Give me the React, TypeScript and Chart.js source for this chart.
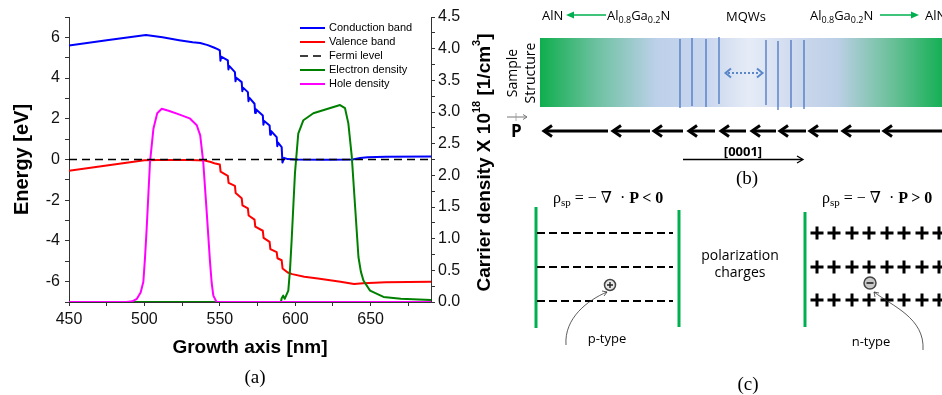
import React, { useEffect, useRef } from 'react';
import { Chart, registerables } from 'chart.js';

Chart.register(...registerables);

// ---------- data ----------
const conductionX = [450, 475, 501, 512, 523, 532, 537, 542, 546, 548.5, 550,
  550.4, 550.9, 555.3, 555.7, 556.2, 560, 560.4, 560.9, 564.5, 564.9, 565.4,
  568.6, 569.0, 569.5, 573, 573.4, 573.9, 578.5, 578.9, 579.4, 583, 583.4, 583.9,
  587.7, 588.1, 588.6, 591, 591.5, 592.6, 595, 600, 620, 638, 643, 648, 660, 690];
const conductionY = [5.6, 5.86, 6.12, 6.0, 5.86, 5.76, 5.72, 5.62, 5.5, 5.42, 5.36,
  4.85, 5.05, 4.87, 4.42, 4.6, 4.29, 3.84, 4.02, 3.8, 3.35, 3.53,
  3.31, 2.86, 3.04, 2.74, 2.29, 2.47, 2.16, 1.71, 1.89, 1.67, 1.22, 1.4,
  1.1, 0.65, 0.83, 0.61, -0.15, 0.08, 0.02, 0.0, -0.01, 0.0, 0.07, 0.11, 0.13, 0.15];

const valenceX = [450, 475, 500, 510, 530, 540, 544, 547, 550,
  550.5, 555.3, 555.8, 560, 560.5, 564.5, 565, 568.6, 569.1, 573, 573.5,
  578.5, 579, 583, 583.5, 587.7, 588.2, 591, 591.6, 595, 598, 606, 615, 630, 639, 645, 660, 690];
const valenceY = [-0.55, -0.3, -0.04, -0.02, -0.03, -0.05, -0.12, -0.2, -0.25,
  -0.6, -0.8, -1.15, -1.3, -1.65, -1.9, -2.25, -2.4, -2.75, -2.95, -3.3,
  -3.5, -3.85, -4.05, -4.4, -4.55, -4.85, -4.95, -5.35, -5.55, -5.63, -5.76, -5.85, -6.0, -6.12, -6.08, -6.03, -6.0];

const fermiX = [450, 690];
const fermiY = [0, 0];

const electronX = [450, 589, 590.5, 591, 592, 593, 595.4, 596.5, 597.6, 598.7, 599.8, 602, 605.4, 612, 620,
  629.7, 633, 635.2, 637.5, 639.7, 641.9, 643.5, 645.2, 649.6, 658.5, 670, 690];
const electronY = [0, 0, 0, 0.06, 0.1, 0.05, 0.18, 0.5, 0.97, 1.5, 2.03, 2.66, 2.87, 2.98, 3.04,
  3.11, 3.06, 2.82, 2.29, 1.5, 0.71, 0.48, 0.34, 0.18, 0.08, 0.05, 0.03];

const holeX = [450, 488, 492, 495, 497.5, 499.3, 500.4, 501.5, 503.7, 506, 508.5, 511.5, 516, 522, 530,
  534.7, 537, 539, 541.3, 543.5, 544.6, 545.7, 547.8, 560, 690];
const holeY = [0, 0, 0.01, 0.05, 0.15, 0.32, 0.7, 1.16, 2.21, 2.74, 2.98, 3.05, 3.02, 2.97, 2.9,
  2.79, 2.63, 2.21, 1.42, 0.63, 0.3, 0.1, 0, 0, 0];

const seriesLabels = ['Conduction band', 'Valence band', 'Fermi level', 'Electron density', 'Hole density'];
const seriesColors = ['#0000ff', '#ff0000', '#000000', '#008000', '#ff00ff'];

const xTitle = 'Growth axis [nm]';
const yTitle = 'Energy [eV]';
const y1TitleParts = ['Carrier density X 10', '18', ' [1/cm', '3', ']'];

const SANS = "'Liberation Sans', Arial, Helvetica, sans-serif";

const pts = (xs: number[], ys: number[]) => xs.map((x, i) => ({ x, y: ys[i] }));

const legendPlugin = {
  id: 'insideLegend',
  afterDraw(chart: any) {
    const ctx = chart.ctx;
    const a = chart.chartArea;
    ctx.save();
    ctx.font = `11px ${SANS}`;
    ctx.textBaseline = 'middle';
    ctx.textAlign = 'left';
    chart.data.datasets.forEach((ds: any, i: number) => {
      const y = a.top + 11 + i * 14;
      const x0 = a.left + 231;
      ctx.strokeStyle = ds.borderColor;
      ctx.lineWidth = ds.borderWidth;
      ctx.setLineDash(ds.borderDash || []);
      ctx.beginPath();
      ctx.moveTo(x0, y);
      ctx.lineTo(x0 + 25, y);
      ctx.stroke();
      ctx.setLineDash([]);
      ctx.fillStyle = '#000';
      ctx.fillText(ds.label, x0 + 29, y);
    });
    ctx.restore();
  },
};

const rightTitlePlugin = {
  id: 'rightTitle',
  afterDraw(chart: any) {
    const ctx = chart.ctx;
    const a = chart.chartArea;
    const cx = a.right + 54;
    const cy = (a.top + a.bottom) / 2 + 3;
    const big = `bold 19px ${SANS}`;
    const small = `bold 11px ${SANS}`;
    const parts = y1TitleParts.map((t, i) => ({ t, f: i % 2 === 1 ? small : big, dy: i % 2 === 1 ? -8 : 0 }));
    ctx.save();
    let total = 0;
    parts.forEach((p) => { ctx.font = p.f; total += ctx.measureText(p.t).width; });
    ctx.translate(cx, cy);
    ctx.rotate(-Math.PI / 2);
    ctx.fillStyle = '#000';
    ctx.textBaseline = 'middle';
    ctx.textAlign = 'left';
    let x = -total / 2;
    parts.forEach((p) => {
      ctx.font = p.f;
      ctx.fillText(p.t, x, p.dy);
      x += ctx.measureText(p.t).width;
    });
    ctx.restore();
  },
};

function ChartPanel() {
  const ref = useRef<HTMLCanvasElement | null>(null);
  useEffect(() => {
    if (!ref.current) return;
    const common = { pointRadius: 0, fill: false, tension: 0, borderJoinStyle: 'round' as const };
    const chart = new Chart(ref.current, {
      type: 'line',
      data: {
        datasets: [
          { ...common, label: seriesLabels[0], data: pts(conductionX, conductionY), borderColor: seriesColors[0], borderWidth: 2, yAxisID: 'y', order: 4 },
          { ...common, label: seriesLabels[1], data: pts(valenceX, valenceY), borderColor: seriesColors[1], borderWidth: 2, yAxisID: 'y', order: 3 },
          { ...common, label: seriesLabels[2], data: pts(fermiX, fermiY), borderColor: seriesColors[2], borderWidth: 1.3, borderDash: [8, 5], yAxisID: 'y', order: 0 },
          { ...common, label: seriesLabels[3], data: pts(electronX, electronY), borderColor: seriesColors[3], borderWidth: 2, yAxisID: 'y1', order: 2 },
          { ...common, label: seriesLabels[4], data: pts(holeX, holeY), borderColor: seriesColors[4], borderWidth: 2, yAxisID: 'y1', order: 1 },
        ],
      },
      options: {
        responsive: false,
        animation: false,
        devicePixelRatio: 1,
        layout: { padding: { top: 17, left: 0, right: 0, bottom: 0 } },
        plugins: { legend: { display: false }, tooltip: { enabled: false } },
        scales: {
          x: {
            type: 'linear', min: 450, max: 690, position: 'bottom',
            ticks: {
              stepSize: 25, includeBounds: false, autoSkip: false, maxRotation: 0, padding: 4,
              color: '#111', font: { size: 16, family: SANS },
              callback: (v: any) => (Math.round(v) % 50 === 0 ? String(v) : ''),
            },
            grid: { drawOnChartArea: false, tickLength: 4, tickColor: '#333', tickWidth: 1 },
            border: { color: '#333', width: 1 },
            title: { display: true, text: xTitle, color: '#000', font: { size: 19, weight: 'bold', family: SANS }, padding: { top: 0, bottom: 1 } },
            afterFit: (s: any) => { s.height = 58; },
          },
          y: {
            type: 'linear', min: -7, max: 7, position: 'left',
            ticks: {
              stepSize: 1, autoSkip: false, padding: 5, color: '#111', font: { size: 16, family: SANS },
              callback: (v: any) => (Math.round(v) % 2 === 0 ? String(v) : ''),
            },
            grid: { drawOnChartArea: false, tickLength: 4, tickColor: '#333', tickWidth: 1 },
            border: { color: '#333', width: 1 },
            title: { display: true, text: yTitle, color: '#000', font: { size: 20, weight: 'bold', family: SANS }, padding: { top: 10, bottom: 0 } },
            afterFit: (s: any) => { s.width = 69; },
          },
          y1: {
            type: 'linear', min: 0, max: 4.5, position: 'right',
            ticks: {
              stepSize: 0.25, autoSkip: false, padding: 3, color: '#111', font: { size: 16, family: SANS },
              callback: (v: any) => (Math.abs(v * 2 - Math.round(v * 2)) < 1e-9 ? Number(v).toFixed(1) : ''),
            },
            grid: { drawOnChartArea: false, tickLength: 4, tickColor: '#333', tickWidth: 1 },
            border: { color: '#333', width: 1 },
            afterFit: (s: any) => { s.width = 69; },
          },
        },
      } as any,
      plugins: [legendPlugin, rightTitlePlugin],
    });
    return () => chart.destroy();
  }, []);
  return <canvas ref={ref} width={500} height={360} style={{ position: 'absolute', left: 0, top: 0, width: 500, height: 360 }} />;
}

// ---------- schematic panels (b) and (c) ----------
const arrowRow = [[543, 608], [612, 650], [653, 683], [688, 715], [720, 746], [751, 776], [779, 806], [809, 838], [842, 880], [883, 942]];
const wellLines = [[680, 39, 108], [692, 38, 106], [706, 39, 107], [719, 37, 104], [766, 40, 105], [778, 41, 110], [791, 40, 108], [804, 40, 109]];
const plusXs = [817, 834, 852, 869, 887, 904, 922, 939];
const plusRows = [233, 267, 300];
const dashRows = [233, 267, 301];

function Diagram() {
  const green = '#00b050';
  const sans = "'Open Sans', 'Noto Sans', sans-serif";
  const serif = "'Liberation Serif', 'DejaVu Serif', serif";
  const pre = { whiteSpace: 'pre' as const };
  return (
    <svg width={942} height={395} style={{ position: 'absolute', left: 0, top: 0 }}>
      <defs>
        <linearGradient id="struct" gradientUnits="userSpaceOnUse" x1={540} y1={0} x2={942} y2={0}>
          <stop offset="0" stopColor="#0fae4d" />
          <stop offset="0.14" stopColor="#6cc1a0" />
          <stop offset="0.29" stopColor="#bdd0ea" />
          <stop offset="0.42" stopColor="#cad7ee" />
          <stop offset="0.52" stopColor="#e6ecf7" />
          <stop offset="0.66" stopColor="#c9d6ec" />
          <stop offset="0.74" stopColor="#bccfe6" />
          <stop offset="0.87" stopColor="#6dc19c" />
          <stop offset="1" stopColor="#15b055" />
        </linearGradient>
      </defs>

      {/* caption (a) */}
      <text x={255} y={383} textAnchor="middle" fontFamily={serif} fontSize={19}>(a)</text>

      {/* (b) header */}
      <text x={542} y={19.5} fontFamily={sans} fontSize={13}>AlN</text>
      <line x1={606} y1={15} x2={573} y2={15} stroke={green} strokeWidth={1.5} />
      <polygon points="566,15 574,11.5 574,18.5" fill={green} />
      <text x={607} y={19.5} fontFamily={sans} fontSize={13}>Al<tspan fontSize={9} dy={3}>0.8</tspan><tspan dy={-3}>Ga</tspan><tspan fontSize={9} dy={3}>0.2</tspan><tspan dy={-3}>N</tspan></text>
      <text x={746} y={21} textAnchor="middle" fontFamily={sans} fontSize={13}>MQWs</text>
      <text x={810} y={19.5} fontFamily={sans} fontSize={13}>Al<tspan fontSize={9} dy={3}>0.8</tspan><tspan dy={-3}>Ga</tspan><tspan fontSize={9} dy={3}>0.2</tspan><tspan dy={-3}>N</tspan></text>
      <line x1={880} y1={15} x2={912} y2={15} stroke={green} strokeWidth={1.5} />
      <polygon points="919,15 911,11.5 911,18.5" fill={green} />
      <text x={925} y={19.5} fontFamily={sans} fontSize={13}>AlN</text>

      {/* sample structure */}
      <text transform="translate(517,73) rotate(-90)" textAnchor="middle" fontFamily={sans} fontSize={14}>Sample</text>
      <text transform="translate(535,73) rotate(-90)" textAnchor="middle" fontFamily={sans} fontSize={14}>Structure</text>
      <rect x={540} y={38} width={402} height={69} fill="url(#struct)" />
      {wellLines.map(([x, y1, y2], i) => (
        <line key={i} x1={x} y1={y1} x2={x} y2={y2} stroke="#4a76c2" strokeWidth={1.3} />
      ))}
      <line x1={728} y1={73} x2={760} y2={73} stroke="#5b87c8" strokeWidth={2} strokeDasharray="2 2" />
      <polyline points="731,68.5 725.5,73 731,77.5" fill="none" stroke="#5b87c8" strokeWidth={2} />
      <polyline points="757,68.5 762.5,73 757,77.5" fill="none" stroke="#5b87c8" strokeWidth={2} />

      {/* polarization arrows */}
      <text x={511} y={137} fontFamily={sans} fontSize={17} fontWeight="bold">P</text>
      <line x1={507} y1={117} x2={527} y2={117} stroke="#777" strokeWidth={1} />
      <polyline points="523,114.5 527,117 523,119.5" fill="none" stroke="#777" strokeWidth={1} />
      <line x1={516} y1={113} x2={516} y2={121} stroke="#999" strokeWidth={0.8} />
      {arrowRow.map(([h, t], i) => (
        <g key={i} stroke="#000" strokeWidth={3} fill="none">
          <line x1={h + 1} y1={131} x2={t} y2={131} />
          <polyline points={`${h + 9},125.5 ${h + 1},131 ${h + 9},136.5`} />
        </g>
      ))}
      <text x={743} y={156} textAnchor="middle" fontFamily={sans} fontSize={13} fontWeight="bold">[0001]</text>
      <line x1={683} y1={159.5} x2={802} y2={159.5} stroke="#000" strokeWidth={1.3} />
      <polyline points="797,156 803,159.5 797,163" fill="none" stroke="#000" strokeWidth={1.3} />
      <text x={747} y={184} textAnchor="middle" fontFamily={serif} fontSize={19}>(b)</text>

      {/* (c) */}
      <text x={553} y={203} fontFamily={serif} fontSize={16} style={pre}>ρ<tspan fontSize={11} dy={3}>sp</tspan><tspan dy={-3}> = − ∇  · </tspan><tspan fontWeight="bold">P &lt; 0</tspan></text>
      <text x={822} y={203} fontFamily={serif} fontSize={16} style={pre}>ρ<tspan fontSize={11} dy={3}>sp</tspan><tspan dy={-3}> = − ∇  · </tspan><tspan fontWeight="bold">P &gt; 0</tspan></text>

      <line x1={536} y1={207} x2={536} y2={328} stroke={green} strokeWidth={3} />
      <line x1={679} y1={210} x2={679} y2={327} stroke={green} strokeWidth={3} />
      {dashRows.map((y, i) => (
        <line key={i} x1={537} y1={y} x2={673} y2={y} stroke="#000" strokeWidth={2} strokeDasharray="8 4" />
      ))}
      <circle cx={610} cy={285} r={5.5} fill="#e8e8e8" stroke="#444" strokeWidth={1.5} />
      <path d="M607 285 H613 M610 282 V288" stroke="#222" strokeWidth={1.4} />
      <path d="M566 345 C 564 318, 588 300, 607 292" fill="none" stroke="#333" strokeWidth={0.8} />
      <polyline points="602,291 607,292 604,296" fill="none" stroke="#333" strokeWidth={0.8} />
      <text x={607} y={343} textAnchor="middle" fontFamily={sans} fontSize={13}>p-type</text>

      <text x={740} y={260} textAnchor="middle" fontFamily={sans} fontSize={14}>polarization</text>
      <text x={740} y={277} textAnchor="middle" fontFamily={sans} fontSize={14}>charges</text>

      <line x1={805} y1={212} x2={805} y2={327} stroke={green} strokeWidth={3} />
      {plusRows.map((y, r) => plusXs.map((x, i) => (
        <path key={`${r}-${i}`} d={`M${x - 6.5} ${y} H${x + 6.5} M${x} ${y - 6.5} V${y + 6.5}`} stroke="#000" strokeWidth={3} />
      )))}
      <circle cx={870} cy={283} r={6} fill="#c8c8c8" stroke="#444" strokeWidth={1.5} />
      <path d="M866.5 283 H873.5" stroke="#222" strokeWidth={1.6} />
      <path d="M923 350 C 925 318, 892 306, 874 292" fill="none" stroke="#333" strokeWidth={0.8} />
      <polyline points="875,297 874,292 879,293" fill="none" stroke="#333" strokeWidth={0.8} />
      <text x={871} y={346} textAnchor="middle" fontFamily={sans} fontSize={13}>n-type</text>

      <text x={748} y={390} textAnchor="middle" fontFamily={serif} fontSize={19}>(c)</text>
    </svg>
  );
}

export default function App() {
  return (
    <div style={{ position: 'absolute', left: 0, top: 0, width: 942, height: 395, background: '#fff', overflow: 'hidden' }}>
      <ChartPanel />
      <Diagram />
    </div>
  );
}
